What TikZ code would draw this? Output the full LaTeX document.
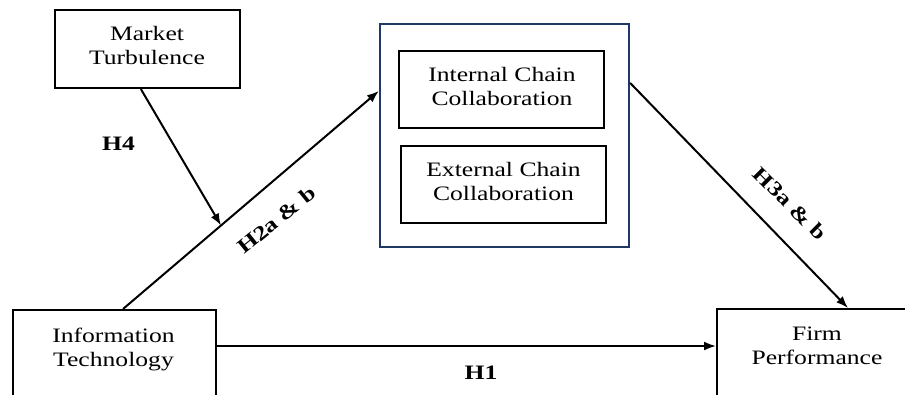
\documentclass[tikz,border=0pt]{standalone}
\usepackage{fontspec}
\setmainfont{Liberation Serif}[FakeStretch=1.25]
\usetikzlibrary{arrows.meta,calc}
\definecolor{navyframe}{HTML}{1F3864}
\begin{document}
\begin{tikzpicture}[x=1pt,y=-1pt,
  box/.style={draw=black,line width=2.2pt,inner sep=0pt},
  grp/.style={draw=navyframe,line width=2.2pt,inner sep=0pt},
  txt/.style={align=center,inner sep=0pt,font=\fontsize{20.5}{24}\selectfont},
  hyp/.style={inner sep=0pt,font=\fontsize{20.5}{24}\selectfont\bfseries},
  arr/.style={line width=2pt,-{Latex[length=12pt,width=9pt]}}]
\useasboundingbox (0,0) rectangle (905,394);
\begin{scope}
\clip (0,0) rectangle (905,394);
% boxes
\node[box,minimum width=185pt,minimum height=78pt] (mt) at (147.5,49) {};
\node[txt] (mtt) at (147,45.5) {Market\\Turbulence};
\node[grp,minimum width=249pt,minimum height=223pt] (cc) at (504.5,135.5) {};
\node[box,minimum width=205pt,minimum height=77pt] (ic) at (501.5,89.5) {};
\node[txt] (ict) at (502,86.5) {Internal Chain\\Collaboration};
\node[box,minimum width=205pt,minimum height=77pt] (ec) at (503.5,184.5) {};
\node[txt] (ect) at (503.5,181.5) {External Chain\\Collaboration};
\node[box,minimum width=203pt,minimum height=120pt,anchor=north west] (it) at (12,309) {};
\node[txt] (itt) at (113.5,349.5) {Information\\Technology};
\node[box,minimum width=230pt,minimum height=120pt,anchor=north west] (fp) at (716,308) {};
\node[txt] (fpt) at (817,345.5) {Firm\\Performance};
% connector end points
\coordinate (itout) at ($(it.north west)+(111,0)$);
\coordinate (ccin) at ($(cc.north west)+(0,68)$);
\coordinate (ccout) at ($(cc.north east)+(0,60)$);
\coordinate (fpin) at ($(fp.north west)+(132,0)$);
\coordinate (mtout) at ($(mt.south west)+(87,0)$);
\coordinate (mod) at ($(itout)!0.383!(ccin)$);
\coordinate (itright) at ($(it.north east)+(0,37)$);
\coordinate (fpleft) at ($(fp.north west)+(0,38)$);
% connectors
\draw[arr] (itout) -- (ccin);
\draw[arr] (mtout) -- (mod);
\draw[arr] (ccout) -- (fpin);
\draw[arr] (itright) -- (fpleft);
% labels
\coordinate (h2p) at ($(itout)!0.52!(ccin)$);
\coordinate (h3p) at ($(ccout)!0.632!(fpin)$);
\node[hyp] (h4) at (118.5,144) {H4};
\node[hyp] (h1) at (481,373) {H1};
\node[hyp,rotate=39] (h2) at ($(h2p)!31.7pt!-90:(ccin)$) {H2a \& b};
\node[hyp,rotate=-45] (h3) at ($(h3p)!31pt!90:(fpin)$) {H3a \& b};
\end{scope}
\end{tikzpicture}
\end{document}
